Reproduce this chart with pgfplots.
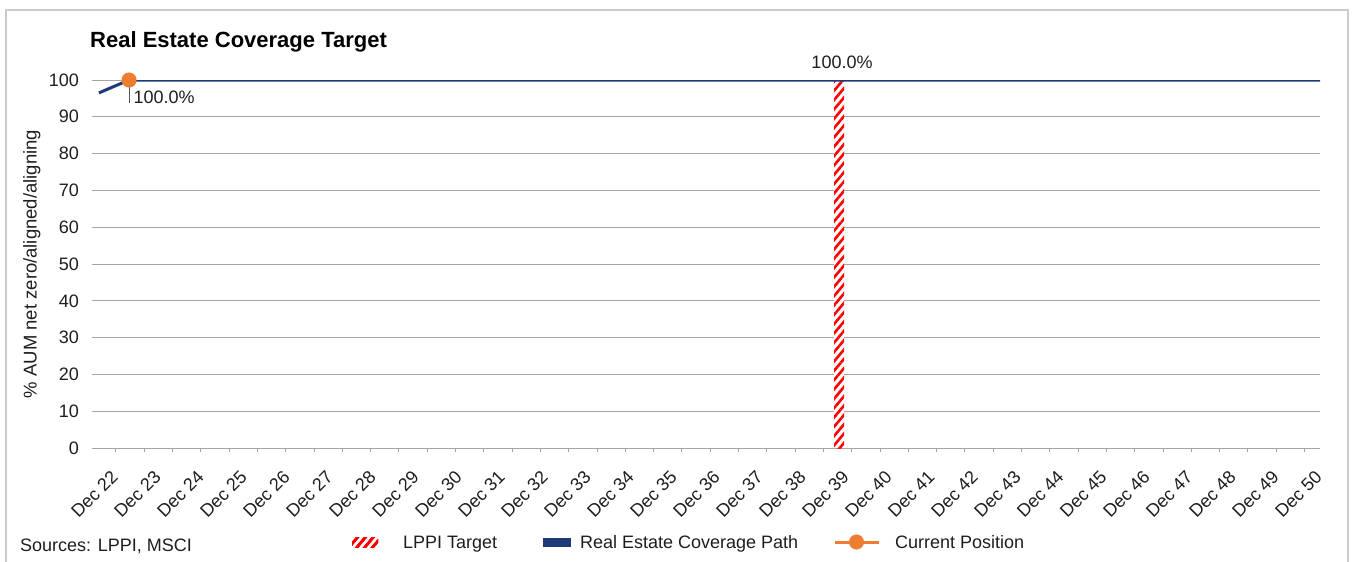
\documentclass[border=0pt]{standalone}
\usepackage{pgfplots}
\pgfplotsset{compat=1.18}
\usepackage{fontspec}
\setmainfont{Liberation Sans}
\usetikzlibrary{patterns.meta}

\definecolor{pathblue}{HTML}{1F3A7A}
\definecolor{curorange}{HTML}{ED7D31}
\definecolor{gridgray}{HTML}{A6A6A6}
\definecolor{framegray}{HTML}{CBCBCB}
\definecolor{txt}{HTML}{1E1E1E}

\tikzset{redstripes/.style={pattern={Lines[angle=50,distance=6pt,line width=2.6pt]},pattern color=red}}

\begin{document}
\begin{tikzpicture}
\useasboundingbox (0,0) rectangle (1355pt,-562pt);
% outer frame of the chart
\draw[framegray, line width=2pt] (6pt,-10pt) rectangle (1348pt,-600pt);
\node[anchor=base west, font=\fontsize{22}{25}\selectfont\bfseries, text=black, inner sep=0pt] at (90pt,-47pt) {Real Estate Coverage Target};
\node[anchor=base west, font=\fontsize{18}{21}\selectfont, text=txt, inner sep=0pt] at (20pt,-551pt) {Sources: LPPI, MSCI};

\begin{axis}[
  at={(92pt,-448pt)}, anchor=south west,
  scale only axis, width=1228pt, height=368pt,
  xmin=-0.372, xmax=28.186, ymin=0, ymax=100,
  axis x line*=bottom, axis y line*=left,
  y axis line style={draw=none},
  x axis line style={gridgray, line width=1pt},
  ytick={0,10,...,100},
  xtick={0,...,28},
  xticklabels={Dec 22,Dec 23,Dec 24,Dec 25,Dec 26,Dec 27,Dec 28,Dec 29,Dec 30,Dec 31,Dec 32,Dec 33,Dec 34,Dec 35,Dec 36,Dec 37,Dec 38,Dec 39,Dec 40,Dec 41,Dec 42,Dec 43,Dec 44,Dec 45,Dec 46,Dec 47,Dec 48,Dec 49,Dec 50},
  minor xtick={0.183,0.8411,...,27.9},
  major tick length=0pt,
  minor tick length=4pt,
  tick align=outside,
  minor tick style={gridgray, line width=0.8pt},
  ymajorgrids, grid style={gridgray, line width=0.9pt},
  /pgf/number format/assume math mode=true,
  tick label style={font=\fontsize{18}{21}\selectfont, text=txt},
  yticklabel style={anchor=east, inner sep=0pt, xshift=-13pt},
  xticklabel style={inner sep=0pt, yshift=-21pt, xshift=2pt, rotate=45, anchor=north east},
  ylabel={\% AUM net zero/aligned/aligning},
  every axis y label/.style={at={(axis description cs:-0.0489,0.5)}, rotate=90, anchor=center, font=\fontsize{18.5}{21}\selectfont, text=txt},
  legend columns=3,
  legend style={at={(0.21173,-0.25543)}, anchor=west, draw=none, fill=none,
    inner sep=0pt, outer sep=0pt, font=\fontsize{18}{21}\selectfont, text=txt,
    nodes={inner sep=0pt, text depth=0pt}, cells={anchor=west},
    /tikz/column sep=0pt},
]

% LPPI target bar
\addplot[ybar, bar width=10pt, draw=none, fill=white, postaction={redstripes},
  point meta=y,
  nodes near coords={\pgfmathprintnumber[fixed,fixed zerofill,precision=1]{\pgfplotspointmeta}\%},
  every node near coord/.append style={anchor=south, inner sep=0pt, yshift=11pt, xshift=3pt, font=\fontsize{18}{21}\selectfont, text=txt},
  legend image code/.code={
    \fill[white] (0pt,-5pt) rectangle (26pt,5pt);
    \fill[redstripes] (0pt,-5pt) rectangle (26pt,5pt);
    \path (51pt,0pt);
  }] coordinates {(17,100)};
\addlegendentry{\makebox[140pt][l]{LPPI Target}}

% coverage path
\addplot[pathblue, line width=3pt, mark=none,
  legend image code/.code={
    \fill[pathblue] (0pt,-3pt) rectangle (25pt,3pt);
    \path (34pt,0pt);
  }] coordinates {(-0.21,96.5) (0.49,100) (28.186,100)};
\addlegendentry{\makebox[253pt][l]{Real Estate Coverage Path}}

% leader line of the current position label
\draw[txt!75, line width=0.8pt] (axis cs:0.49,100) ++(0pt,-6pt) -- ++(0pt,-17pt);

% current position
\addplot[curorange, line width=3pt, mark=*, mark size=6pt,
  mark options={fill=curorange, draw=none},
  point meta=y,
  nodes near coords={\pgfmathprintnumber[fixed,fixed zerofill,precision=1]{\pgfplotspointmeta}\%},
  every node near coord/.append style={anchor=north west, inner sep=0pt, xshift=3pt, yshift=-9pt, font=\fontsize{18}{21}\selectfont, text=txt},
  legend image code/.code={
    \draw[curorange, line width=3pt] (0pt,0pt) -- (44pt,0pt);
    \fill[curorange] (22pt,0pt) circle (6pt);
    \path (59pt,0pt);
  }] coordinates {(0.49,100)};
\addlegendentry{Current Position}
\end{axis}
\end{tikzpicture}
\end{document}
